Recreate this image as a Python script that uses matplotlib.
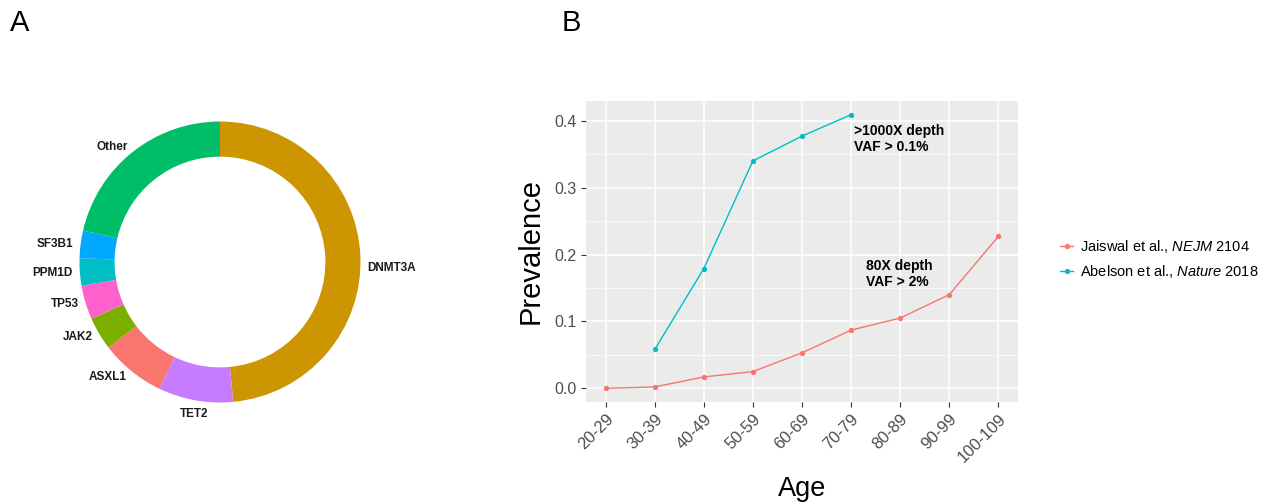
import numpy as np
import matplotlib
matplotlib.use("Agg")
import matplotlib.pyplot as plt
from matplotlib.lines import Line2D

plt.rcParams['font.family'] = ['Liberation Sans', 'DejaVu Sans']
plt.rcParams['mathtext.fontset'] = 'custom'
plt.rcParams['mathtext.it'] = 'Liberation Sans:italic'
plt.rcParams['mathtext.rm'] = 'Liberation Sans'

# ---- Data ----
genes = ["DNMT3A", "TET2", "ASXL1", "JAK2", "TP53", "PPM1D", "SF3B1", "Other"]
gene_share = [0.485, 0.086, 0.075, 0.038, 0.039, 0.031, 0.032, 0.214]
gene_colors = ["#CD9600", "#C77CFF", "#F8766D", "#7CAE00", "#FF61CC", "#00BFC4", "#00A9FF", "#00BE67"]

age_groups = ["20-29", "30-39", "40-49", "50-59", "60-69", "70-79", "80-89", "90-99", "100-109"]
jaiswal = [0.000, 0.002, 0.017, 0.025, 0.053, 0.087, 0.105, 0.140, 0.227]
abelson_groups = ["30-39", "40-49", "50-59", "60-69", "70-79"]
abelson = [0.058, 0.179, 0.340, 0.377, 0.409]

W, H = 1269, 504
fig = plt.figure(figsize=(W / 100, H / 100), dpi=100)

def fbox(x0, y0, x1, y1):
    return [x0 / W, 1 - y1 / H, (x1 - x0) / W, (y1 - y0) / H]

# ---- Panel A: donut ----
axA = fig.add_axes(fbox(79.5, 121.5, 360.5, 402.5))
wedges, _ = axA.pie(gene_share, colors=gene_colors, startangle=90, counterclock=False,
                    radius=1.0, wedgeprops=dict(width=0.25, linewidth=0))
axA.set_xlim(-1, 1)
axA.set_ylim(-1, 1)
axA.set_aspect('equal')
axA.axis('off')
for w, lab in zip(wedges, genes):
    ang = np.deg2rad((w.theta1 + w.theta2) / 2)
    r = 1.05
    x, y = r * np.cos(ang), r * np.sin(ang)
    if abs(x) < 0.3:
        ha = 'center'
        y -= 0.05
    else:
        ha = 'left' if x > 0 else 'right'
    if lab == "DNMT3A":
        y -= 0.09
    axA.text(x, y, lab, ha=ha, va='center', fontsize=8.5, fontweight='bold',
             color='#1a1a1a', clip_on=False)

fig.text(10 / W, 1 - 23 / H, "A", fontsize=21, va='center', ha='left')
fig.text(562 / W, 1 - 23 / H, "B", fontsize=21, va='center', ha='left')

# ---- Panel B: line chart ----
axB = fig.add_axes(fbox(586, 101, 1018, 402))
axB.set_facecolor('#EBEBEB')
xj = [age_groups.index(g) for g in age_groups]
xa = [age_groups.index(g) for g in abelson_groups]
red, cyan = "#F8766D", "#00BFC4"
axB.plot(xj, jaiswal, color=red, lw=1.0, marker='o', ms=2.8, zorder=3)
axB.plot(xa, abelson, color=cyan, lw=1.0, marker='o', ms=2.8, zorder=3)

axB.set_xlim(-0.4, 8.4)
axB.set_ylim(-0.0205, 0.4295)
axB.set_xticks(range(len(age_groups)))
axB.set_xticklabels(age_groups, rotation=45, ha='right', rotation_mode='anchor')
axB.set_yticks([0.0, 0.1, 0.2, 0.3, 0.4])
axB.set_yticklabels(["0.0", "0.1", "0.2", "0.3", "0.4"])
axB.set_yticks([0.05, 0.15, 0.25, 0.35], minor=True)
axB.grid(True, which='major', color='white', lw=1.1)
axB.grid(True, which='minor', axis='y', color='white', lw=0.5)
axB.set_axisbelow(True)
for s in axB.spines.values():
    s.set_visible(False)
axB.tick_params(axis='both', which='major', length=3.5, color='#333333', labelsize=11.5,
                labelcolor='#4D4D4D', pad=3)
axB.tick_params(axis='x', which='major', labelsize=12)
axB.tick_params(axis='y', which='minor', length=0)
axB.set_xlabel("Age", fontsize=19.5, labelpad=8)
axB.set_ylabel("Prevalence", fontsize=21, labelpad=7)

axB.text(5.05, 0.373, ">1000X depth\nVAF > 0.1%", fontsize=10, fontweight='bold',
         ha='left', va='center', linespacing=1.2)
axB.text(5.31, 0.171, "80X depth\nVAF > 2%", fontsize=10, fontweight='bold',
         ha='left', va='center', linespacing=1.2)

handles = [Line2D([], [], color=red, lw=1.0, marker='o', ms=2.8),
           Line2D([], [], color=cyan, lw=1.0, marker='o', ms=2.8)]
labels = ["Jaiswal et al., $\\it{NEJM}$ 2104", "Abelson et al., $\\it{Nature}$ 2018"]
fig.legend(handles, labels, loc='center left', bbox_to_anchor=(1060 / W, 1 - 259 / H),
           frameon=False, fontsize=10.5, handlelength=0.9, handletextpad=0.5,
           labelspacing=0.5, borderaxespad=0, borderpad=0)

fig.savefig("out.png", dpi=100)
